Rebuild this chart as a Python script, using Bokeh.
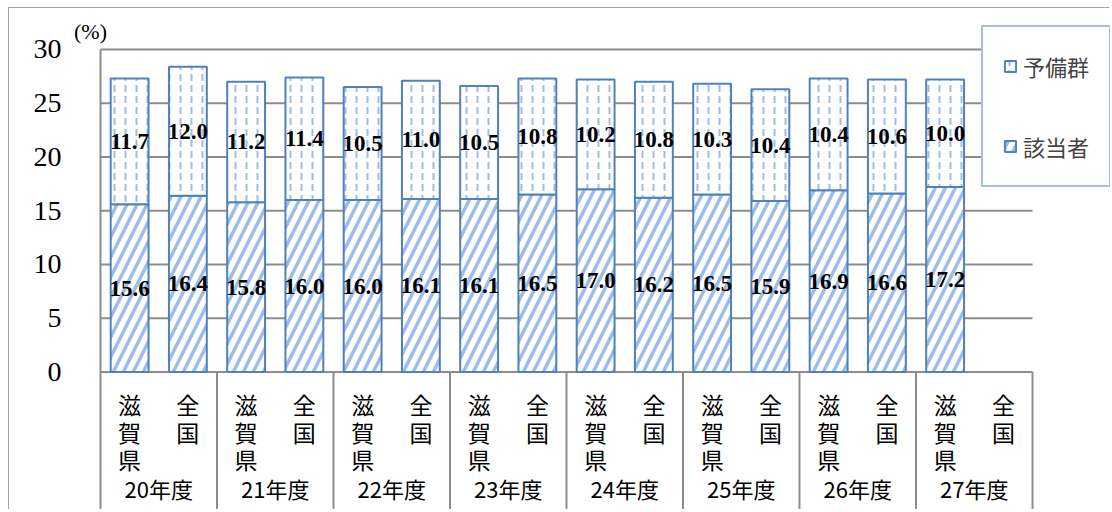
from bokeh.plotting import figure
from bokeh.models import Range1d, FixedTicker, Legend, LegendItem, Label
from bokeh.core.properties import value
from bokeh.embed import file_html
from bokeh.resources import INLINE

# ---- data ----
years = ["20年度", "21年度", "22年度", "23年度", "24年度", "25年度", "26年度", "27年度"]
regions = ["滋賀県", "全国"]
gaitou = [15.6, 16.4, 15.8, 16.0, 16.0, 16.1, 16.1, 16.5, 17.0, 16.2, 16.5, 15.9, 16.9, 16.6, 17.2]
yobi = [11.7, 12.0, 11.2, 11.4, 10.5, 11.0, 10.5, 10.8, 10.2, 10.8, 10.3, 10.4, 10.4, 10.6, 10.0]
y_ticks = [0, 5, 10, 15, 20, 25, 30]
series_names = ["予備群", "該当者"]
unit_label = "(%)"

# ---- derived ----
n_slots = len(years) * len(regions)
xs = [i + 0.5 for i in range(len(gaitou))]
top2 = [a + b for a, b in zip(gaitou, yobi)]
x_start, x_end = -0.515, 17.339
y_start, y_end = -12.88, 33.81

BLUE = "#4F81BD"
HATCH = "#9DBDE8"
GRID = "#8C8C8C"
SERIF = "Liberation Serif"
CJK = "Noto Sans CJK JP"

p = figure(width=1101, height=502, output_backend="svg", toolbar_location=None,
           x_range=Range1d(x_start, x_end), y_range=Range1d(y_start, y_end),
           min_border_left=61, min_border_right=0, min_border_top=0, min_border_bottom=0,
           styles={"margin-left": "8px", "margin-top": "7px",
                   "border-left": "1px solid #A6A6A6", "border-top": "1px solid #A6A6A6"})
p.outline_line_color = None
p.background_fill_color = "white"
p.border_fill_color = "white"
p.xaxis.visible = False
p.xgrid.visible = False
p.ygrid.visible = False

ax = p.yaxis[0]
ax.ticker = FixedTicker(ticks=y_ticks)
ax.major_tick_line_color = None
ax.minor_tick_line_color = None
ax.axis_line_color = None
ax.major_label_text_font = SERIF
ax.major_label_text_font_size = "28px"
ax.major_label_text_color = "black"
ax.major_label_standoff = 3

# horizontal gridlines over the category span
p.segment(x0=[0] * len(y_ticks), y0=y_ticks, x1=[n_slots] * len(y_ticks), y1=y_ticks,
          line_color=GRID, line_width=2)
# plot-area left edge + category separators
bounds = [g * len(regions) for g in range(len(years) + 1)]
tops = [y_ticks[-1]] + [0] * (len(bounds) - 1)
p.segment(x0=bounds, y0=[y_start] * len(bounds), x1=bounds, y1=tops,
          line_color=GRID, line_width=2)

r1 = p.vbar(x=xs, bottom=0, top=gaitou, width=0.65, fill_color="white",
            line_color=BLUE, line_width=2, hatch_pattern="/", hatch_color=HATCH,
            hatch_weight=3.5, hatch_scale=20)
r2 = p.vbar(x=xs, bottom=gaitou, top=top2, width=0.65, fill_color="white",
            line_color=BLUE, line_width=2, hatch_pattern=":", hatch_color=HATCH,
            hatch_weight=2, hatch_scale=11)

lab_kw = dict(text_font=value(SERIF), text_font_style="bold", text_font_size="23px",
              text_align="center", text_baseline="middle", text_color="black")
p.text(x=xs, y=[g / 2 for g in gaitou], text=[f"{v:.1f}" for v in gaitou], **lab_kw)
p.text(x=xs, y=[g + y / 2 for g, y in zip(gaitou, yobi)], text=[f"{v:.1f}" for v in yobi], **lab_kw)

# category labels (vertical writing)
slot_x = [i + 0.5 for i in range(n_slots)]
slot_text = ["\n".join(regions[i % len(regions)]) for i in range(n_slots)]
p.text(x=slot_x, y=[-1.44] * n_slots, text=slot_text, text_font=value(CJK),
       text_font_size="23px", text_align="center", text_baseline="top",
       text_line_height=0.8, text_color="black")
grp_x = [g * len(regions) + len(regions) / 2 for g in range(len(years))]
p.text(x=grp_x, y=[-9.3] * len(years), text=years, text_font=value(CJK),
       text_font_size="22px", text_align="center", text_baseline="top", text_color="black")

p.add_layout(Label(x=-0.172, y=31.63, text=unit_label, text_font=SERIF, text_font_size="22px",
                   text_align="center", text_baseline="middle", text_color="black"))

legend = Legend(items=[LegendItem(label=series_names[0], renderers=[r2]),
                       LegendItem(label=series_names[1], renderers=[r1])],
                location=(911, 323), border_line_color=BLUE, border_line_width=2,
                background_fill_color="white", background_fill_alpha=1,
                label_text_font=CJK, label_text_font_size="22px",
                glyph_width=14, glyph_height=14, padding=20, spacing=42,
                label_height=38, label_standoff=6, margin=0)
p.add_layout(legend)

open("out.html", "w").write(file_html(p, INLINE))
